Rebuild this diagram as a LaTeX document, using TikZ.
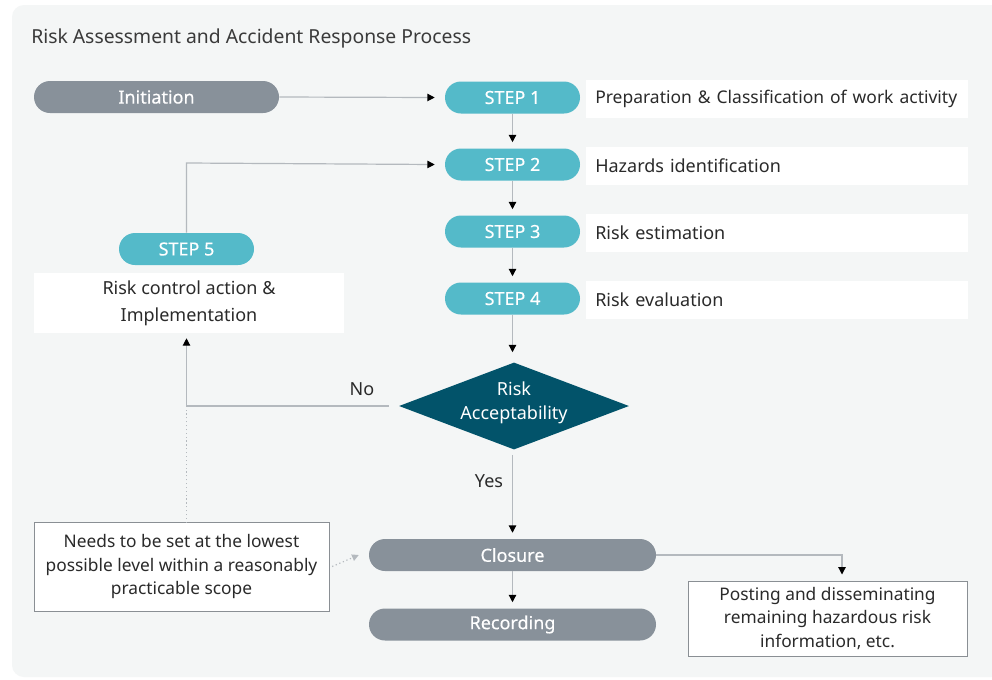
\documentclass[tikz,border=0pt]{standalone}
\usepackage{fontspec}
\setmainfont{Noto Sans}
\newfontfamily\pillfont{Noto Sans}[FakeBold=0.35]
\usetikzlibrary{shapes.geometric,arrows.meta}
\definecolor{bgc}{HTML}{F4F6F6}
\definecolor{pillgray}{HTML}{88919A}
\definecolor{pillteal}{HTML}{54BAC9}
\definecolor{darkteal}{HTML}{02536A}
\definecolor{txt}{HTML}{2A2A2A}
\definecolor{titletxt}{HTML}{3A3A3A}
\definecolor{linec}{HTML}{B4B9BE}
\definecolor{borderc}{HTML}{8A8F94}
\tikzset{
  pill/.style={rectangle, rounded corners=12pt, minimum height=24pt, inner sep=0pt, text=white, font=\pillfont\fontsize{13.5}{16}\selectfont},
  graypill/.style={pill, fill=pillgray},
  tealpill/.style={pill, fill=pillteal},
  descbox/.style={rectangle, fill=white, anchor=west, minimum width=286.5pt, minimum height=28.5pt, inner xsep=6.75pt, inner ysep=0pt, text width=273pt, align=left, text=txt, font=\fontsize{13.5}{16}\selectfont},
  notebox/.style={rectangle, fill=white, draw=borderc, line width=0.75pt, align=center, text=txt, font=\fontsize{13}{17.6}\selectfont, inner sep=0pt},
  conn/.style={draw=linec, line width=0.9pt, -{Triangle[length=5.5pt,width=5.5pt,fill=black,color=black]}},
  dotconn/.style={draw=linec, line width=0.9pt, dotted},
  lbl/.style={text=txt, font=\fontsize{13.5}{16}\selectfont, inner sep=0pt},
}
\begin{document}
\begin{tikzpicture}[x=0.75pt,y=-0.75pt]
\useasboundingbox (0,0) rectangle (992,679);
\fill[white] (0,0) rectangle (992,679);
\begin{scope}
\clip (0,0) rectangle (992,679);
\fill[bgc, rounded corners=9pt] (12,5) rectangle (1020,677);
\end{scope}
\node[anchor=west, text=titletxt, font=\fontsize{14.5}{17}\selectfont, inner sep=0pt] (title) at (31,38) {Risk Assessment and Accident Response Process};

% left column
\node[graypill, minimum width=183.75pt] (init) at (156.5,97) {Initiation};

% steps
\node[tealpill, minimum width=101.25pt] (s1) at (512.5,97.5) {STEP 1};
\node[tealpill, minimum width=101.25pt] (s2) at (512.5,164.5) {STEP 2};
\node[tealpill, minimum width=101.25pt] (s3) at (512.5,231.5) {STEP 3};
\node[tealpill, minimum width=101.25pt] (s4) at (512.5,298.5) {STEP 4};

\node[descbox] (d1) at (586,99) {\mbox{\fontsize{13.1}{16}\selectfont Preparation \& Classification of work activity}};
\node[descbox] (d2) at (586,166) {Hazards identification};
\node[descbox] (d3) at (586,232.5) {Risk estimation};
\node[descbox] (d4) at (586,299.5) {Risk evaluation};

\node[tealpill, minimum width=101.25pt] (s5) at (186.5,249) {STEP 5};
\node[rectangle, fill=white, minimum width=232.5pt, minimum height=45pt, inner sep=0pt, align=center, text=txt, font=\fontsize{13.5}{20}\selectfont] (rc) at (189,303) {Risk control action \&\\Implementation};

\node[diamond, fill=darkteal, minimum width=172.5pt, minimum height=65.25pt, inner sep=0pt] (dec) at (514,406) {};
\node[align=center, text=white, font=\fontsize{13.5}{18}\selectfont, inner sep=0pt] (dectext) at (514,402.5) {Risk\\Acceptability};

\node[graypill, minimum width=215.25pt] (clo) at (512.5,555) {Closure};
\node[graypill, minimum width=215.25pt] (rec) at (512.5,624.5) {Recording};

\node[notebox, minimum width=221.25pt, minimum height=66.75pt] (note) at (181.5,566.5) {Needs to be set at the lowest\\possible level within a reasonably\\practicable scope};
\node[notebox, minimum width=209.25pt, minimum height=56.25pt] (post) at (827.5,618.5) {Posting and disseminating\\remaining hazardous risk\\information, etc.};

% connectors
\draw[conn] (init.east) -- ([xshift=-7.5pt]s1.west);
\draw[conn] (s1.south) -- ([yshift=4.5pt]s2.north);
\draw[conn] (s2.south) -- ([yshift=4.5pt]s3.north);
\draw[conn] (s3.south) -- ([yshift=4.5pt]s4.north);
\draw[conn] (s4.south) -- ([yshift=7.5pt]s4.south |- dec.north);
\coordinate (s5up) at (186.5,163);
\draw[conn] (s5.north) -- (s5up) -- ([xshift=-7.5pt]s2.west);
\coordinate (nocorner) at (186.5,406);
\draw[conn] ([xshift=-7.5pt]dec.west) -- (nocorner) -- ([yshift=-3.75pt]rc.south -| nocorner);
\node[lbl] (nolbl) at (362,389) {No};
\draw[conn] ([yshift=-3.75pt]clo.north |- dec.south) -- ([yshift=4.5pt]clo.north);
\node[lbl] (yeslbl) at (489,481) {Yes};
\draw[conn] (clo.south) -- ([yshift=4.5pt]rec.north);
\coordinate (postcorner) at (842,555);
\draw[conn] (clo.east) -- (postcorner) -- ([yshift=4.5pt]post.north -| postcorner);
\draw[dotconn] ([yshift=-1pt]note.north -| nocorner) -- ([yshift=3pt]nocorner);
\draw[draw=linec, line width=0.9pt, dotted, -{Triangle[length=5pt,width=5pt,fill=linec,color=linec]}] ([xshift=2pt]note.east) -- ([xshift=-7.5pt]clo.west);
\end{tikzpicture}
\end{document}
